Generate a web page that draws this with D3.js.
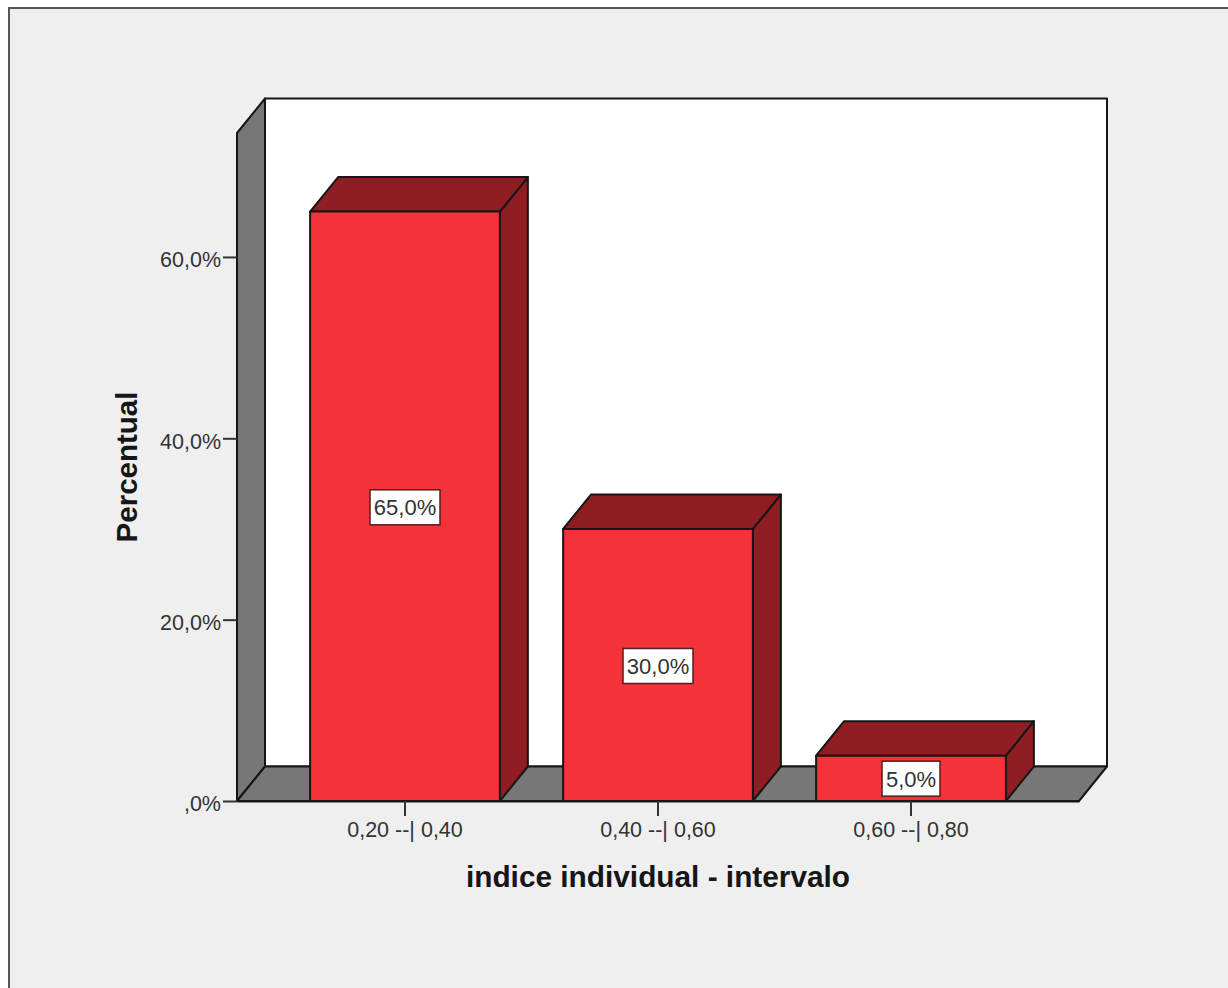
<!DOCTYPE html>
<html>
<head>
<meta charset="utf-8">
<script src="https://cdn.jsdelivr.net/npm/d3@7.9.0/dist/d3.min.js"></script>
<style>
html, body { margin: 0; padding: 0; background: #fff; }
svg { display: block; }
text { font-family: "Liberation Sans", Arial, sans-serif; }
</style>
</head>
<body>
<svg id="chart"></svg>
<script>
const categories = ["0,20 --| 0,40", "0,40 --| 0,60", "0,60 --| 0,80"];
const percentages = [65, 30, 5];
const yTicks = [0, 20, 40, 60];
const xTitle = "indice individual - intervalo";
const yTitle = "Percentual";

const width = 1228, height = 988;
const plotLeft = 237, plotRight = 1079, plotBottom = 801, plotTop = 133;
// 3d offset of the back wall
const dx = 28, dy = -34.5;

const red = "#f33239", darkRed = "#8f1d21", grey = "#777777", ink = "#161616";

const svg = d3.select("#chart").attr("width", width).attr("height", height);

svg.append("rect")
    .attr("x", 9).attr("y", 8)
    .attr("width", width + 20).attr("height", height + 20)
    .attr("fill", "#efefef")
    .attr("stroke", "#555")
    .attr("stroke-width", 2);

const x = d3.scaleBand()
    .domain(categories)
    .range([plotLeft, plotRight])
    .paddingInner(0.25)
    .paddingOuter(0.289);

const y = d3.scaleLinear()
    .domain([0, 73.67])
    .range([plotBottom, plotTop]);

const poly = pts => pts.map(p => p.join(",")).join(" ");

function face(pts, fill) {
    svg.append("polygon")
        .attr("points", poly(pts))
        .attr("fill", fill)
        .attr("stroke", ink)
        .attr("stroke-width", 2)
        .attr("stroke-linejoin", "round");
}

// back wall, side wall, floor
face([[plotLeft + dx, plotTop + dy], [plotRight + dx, plotTop + dy], [plotRight + dx, plotBottom + dy], [plotLeft + dx, plotBottom + dy]], "#ffffff");
face([[plotLeft, plotTop], [plotLeft + dx, plotTop + dy], [plotLeft + dx, plotBottom + dy], [plotLeft, plotBottom]], grey);
face([[plotLeft, plotBottom], [plotLeft + dx, plotBottom + dy], [plotRight + dx, plotBottom + dy], [plotRight, plotBottom]], grey);

// bars: side, top, front
percentages.forEach((v, i) => {
    const x0 = x(categories[i]), x1 = x0 + x.bandwidth(), yv = y(v);
    face([[x1, yv], [x1 + dx, yv + dy], [x1 + dx, plotBottom + dy], [x1, plotBottom]], darkRed);
    face([[x0, yv], [x0 + dx, yv + dy], [x1 + dx, yv + dy], [x1, yv]], darkRed);
    face([[x0, yv], [x1, yv], [x1, plotBottom], [x0, plotBottom]], red);
});

// value labels
percentages.forEach((v, i) => {
    const cx = x(categories[i]) + x.bandwidth() / 2;
    const cy = i === 2 ? y(v) + 23 : y(v / 2) + 1;
    const label = `${v},0%`;
    const g = svg.append("g").attr("transform", `translate(${cx}, ${cy})`);
    const w = i === 2 ? 58 : 70;
    g.append("rect")
        .attr("x", -w / 2).attr("y", -17.5)
        .attr("width", w).attr("height", 35)
        .attr("fill", "#ffffff")
        .attr("stroke", "#5a1a1c")
        .attr("stroke-width", 1.5);
    g.append("text")
        .attr("text-anchor", "middle")
        .attr("dy", "0.36em")
        .attr("font-size", 22)
        .attr("fill", "#333")
        .text(label);
});

// axes
const yAxis = svg.append("g")
    .attr("transform", `translate(${plotLeft}, 0)`)
    .call(d3.axisLeft(y).tickValues(yTicks).tickSize(14).tickSizeOuter(0).tickPadding(2)
        .tickFormat(d => d === 0 ? ",0%" : `${d},0%`));
yAxis.select(".domain").remove();
yAxis.selectAll(".tick text").attr("y", 3);

const xAxis = svg.append("g")
    .attr("transform", `translate(0, ${plotBottom})`)
    .call(d3.axisBottom(x).tickSize(15).tickSizeOuter(0).tickPadding(6));
xAxis.select(".domain").attr("stroke", ink).attr("stroke-width", 2);

svg.selectAll(".tick line").attr("stroke", "#333").attr("stroke-width", 2);
svg.selectAll(".tick text")
    .attr("font-family", '"Liberation Sans", Arial, sans-serif')
    .attr("font-size", 21.5)
    .attr("fill", "#333");

// axis titles
svg.append("text")
    .attr("x", 658).attr("y", 887)
    .attr("text-anchor", "middle")
    .attr("font-size", 29.8)
    .attr("font-weight", "bold")
    .attr("fill", ink)
    .text(xTitle);

svg.append("text")
    .attr("transform", "translate(137, 467) rotate(-90)")
    .attr("text-anchor", "middle")
    .attr("font-size", 29.5)
    .attr("font-weight", "bold")
    .attr("fill", ink)
    .text(yTitle);
</script>
</body>
</html>
